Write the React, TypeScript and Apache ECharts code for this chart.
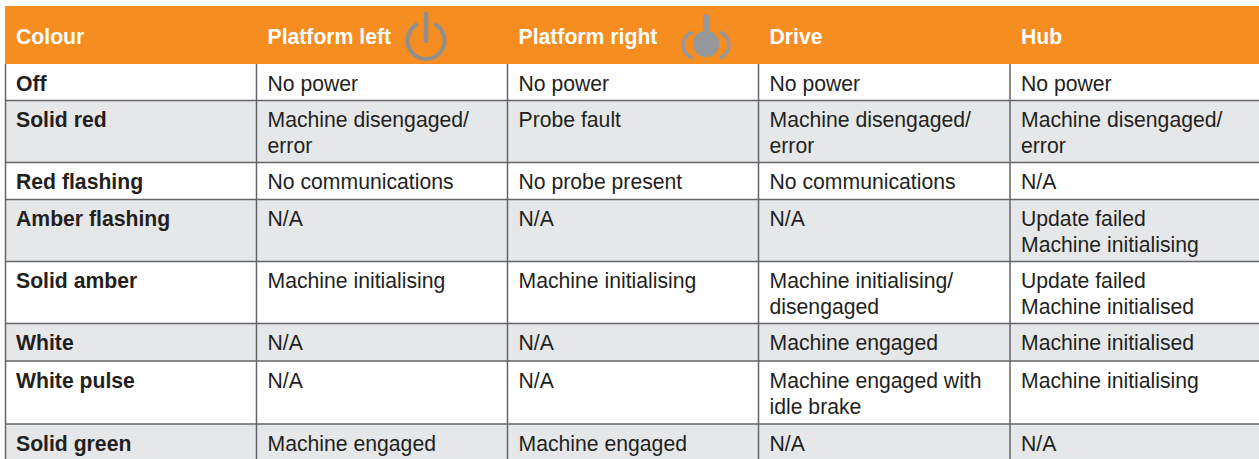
import React, { useEffect, useRef } from "react";
import * as echarts from "echarts";

const headers = ["Colour", "Platform left", "Platform right", "Drive", "Hub"];
const colours = ["Off", "Solid red", "Red flashing", "Amber flashing", "Solid amber", "White", "White pulse", "Solid green"];
const platformLeft = ["No power", "Machine disengaged/\nerror", "No communications", "N/A", "Machine initialising", "N/A", "N/A", "Machine engaged"];
const platformRight = ["No power", "Probe fault", "No probe present", "N/A", "Machine initialising", "N/A", "N/A", "Machine engaged"];
const drive = ["No power", "Machine disengaged/\nerror", "No communications", "N/A", "Machine initialising/\ndisengaged", "Machine engaged", "Machine engaged with\nidle brake", "N/A"];
const hub = ["No power", "Machine disengaged/\nerror", "N/A", "Update failed\nMachine initialising", "Update failed\nMachine initialised", "Machine initialised", "Machine initialising", "N/A"];

const columns = [colours, platformLeft, platformRight, drive, hub];

// Layout of the table, in pixels
const columnEdges = [5.5, 256.5, 507.5, 758.5, 1010, 1259];
const rowEdges = [64, 100.5, 162.5, 199.5, 261.5, 323.5, 361, 424, 459];
const headerTop = 6;
const textInset = 11;
const FONT_FAMILY = '"Liberation Sans", Arial, sans-serif';
const FONT_SIZE = 21.2;
const LINE_STEP = 26;
const TOP_TO_BASELINE = 17.5;
const ORANGE = "#f68d20";
const GREY_ROW = "#e6e7e8";
const RULE = "#63656a";
const INK = "#231f20";
const ICON_LEFT = "#8f8f8f";
const ICON_RIGHT = "#97989b";

function buildGraphics() {
  const els: any[] = [];
  const W = columnEdges[columnEdges.length - 1];
  els.push({ type: "rect", shape: { x: 5, y: headerTop, width: W - 5, height: rowEdges[0] - headerTop }, style: { fill: ORANGE } });
  colours.forEach((_, r) => {
    if (r % 2 === 1) {
      els.push({ type: "rect", shape: { x: 5, y: rowEdges[r], width: W - 5, height: rowEdges[r + 1] - rowEdges[r] }, style: { fill: GREY_ROW } });
    }
  });
  for (let r = 1; r < rowEdges.length - 1; r++) {
    els.push({ type: "line", shape: { x1: 5, y1: rowEdges[r], x2: W, y2: rowEdges[r] }, style: { stroke: RULE, lineWidth: 1.5 } });
  }
  columnEdges.slice(0, 5).forEach((x) => {
    els.push({ type: "line", shape: { x1: x, y1: rowEdges[0], x2: x, y2: rowEdges[rowEdges.length - 1] }, style: { stroke: RULE, lineWidth: 1.5 } });
  });
  headers.forEach((h, c) => {
    els.push({
      type: "text",
      style: { x: columnEdges[c] + textInset - (c === 0 ? 0.5 : 0), y: 43 - TOP_TO_BASELINE, text: h, fill: "#ffffff", font: `bold ${FONT_SIZE}px ${FONT_FAMILY}`, textBaseline: "top" },
    });
  });
  columns.forEach((col, c) => {
    col.forEach((cell, r) => {
      cell.split("\n").forEach((line, i) => {
        els.push({
          type: "text",
          style: {
            x: columnEdges[c] + textInset - (c === 0 ? 0.5 : 0),
            y: rowEdges[r] + 26 - TOP_TO_BASELINE + i * LINE_STEP,
            text: line,
            fill: INK,
            font: `${c === 0 ? "bold " : ""}${FONT_SIZE}px ${FONT_FAMILY}`,
            textBaseline: "top",
          },
        });
      });
    });
  });
  // Platform left icon
  const toRad = (d: number) => (d * Math.PI) / 180;
  els.push({ type: "arc", shape: { cx: 426, cy: 40.5, r: 18.5, startAngle: toRad(-58), endAngle: toRad(238), clockwise: true }, style: { stroke: ICON_LEFT, lineWidth: 4, fill: "none", lineCap: "round" } });
  els.push({ type: "line", shape: { x1: 426, y1: 14, x2: 426, y2: 41 }, style: { stroke: ICON_LEFT, lineWidth: 4.5, lineCap: "round" } });
  // Platform right icon
  els.push({ type: "circle", shape: { cx: 706, cy: 44, r: 13.3 }, style: { fill: ICON_RIGHT } });
  els.push({ type: "line", shape: { x1: 706, y1: 17, x2: 706, y2: 36 }, style: { stroke: ICON_RIGHT, lineWidth: 6, lineCap: "round" } });
  els.push({ type: "arc", shape: { cx: 715.4, cy: 45, r: 13.6, startAngle: toRad(-72.5), endAngle: toRad(72.5), clockwise: true }, style: { stroke: ICON_RIGHT, lineWidth: 3.5, fill: "none" } });
  els.push({ type: "arc", shape: { cx: 696.6, cy: 45, r: 13.6, startAngle: toRad(107.5), endAngle: toRad(252.5), clockwise: true }, style: { stroke: ICON_RIGHT, lineWidth: 3.5, fill: "none" } });
  return els;
}

export default function App() {
  const ref = useRef<HTMLDivElement>(null);
  useEffect(() => {
    document.body.style.margin = "0";
    const chart = echarts.init(ref.current!, undefined, { renderer: "svg" });
    chart.setOption({ animation: false, backgroundColor: "#ffffff", graphic: { elements: buildGraphics() } });
    return () => chart.dispose();
  }, []);
  return <div ref={ref} style={{ width: 1259, height: 459 }} />;
}
